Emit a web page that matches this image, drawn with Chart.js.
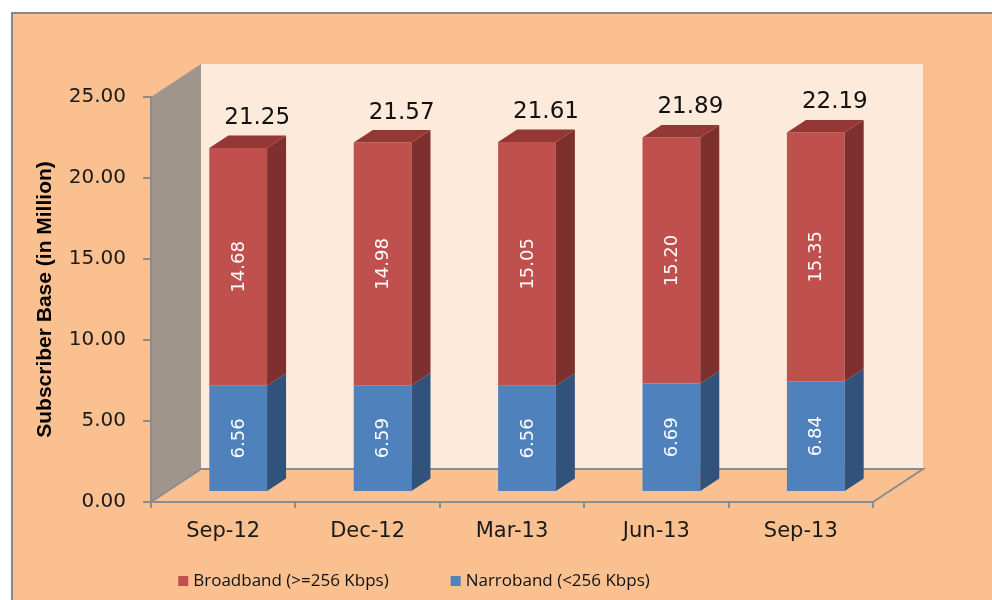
<!DOCTYPE html>
<html>
<head>
<meta charset="utf-8">
<script src="https://cdn.jsdelivr.net/npm/chart.js@4.4.0/dist/chart.umd.min.js"></script>
<style>
  html, body { margin: 0; padding: 0; background: #fff; overflow: hidden; }
  #wrap { position: relative; width: 992px; height: 600px; }
  #chart { display: block; }
</style>
</head>
<body>
<div id="wrap"><canvas id="chart" width="992" height="600"></canvas></div>
<script>
// Données
const categories = ['Sep-12', 'Dec-12', 'Mar-13', 'Jun-13', 'Sep-13'];
const narrowband = [6.56, 6.59, 6.56, 6.69, 6.84];
const broadband = [14.68, 14.98, 15.05, 15.20, 15.35];
const totals = [21.25, 21.57, 21.61, 21.89, 22.19];
const seriesNames = ['Narroband (<256 Kbps)', 'Broadband (>=256 Kbps)'];
const yMin = 0, yMax = 25, yStep = 5;

// couleurs
const colBlue = '#4F81BD', colBlueSide = '#31527A';
const colRed = '#C0504D', colRedSide = '#7E302E', colRedTop = '#953735';
const colBg = '#FAC090', colWall = '#FDEADA', colSideWall = '#A0958B', colLine = '#8C8C8C';

// effet 3D
const WALL = { x: 50, y: -33 };
const SHIFT = { x: 15, y: -10 };
const DEPTH = { x: 19, y: -12.5 };

const scene3d = {
  id: 'scene3d',
  beforeDraw(chart) {
    const ctx = chart.ctx, a = chart.chartArea;
    ctx.save();
    ctx.fillStyle = '#fff';
    ctx.fillRect(0, 0, chart.width, chart.height);
    ctx.fillStyle = '#888';
    ctx.fillRect(11, 12, chart.width, 2);
    ctx.fillRect(11, 12, 2, chart.height);
    ctx.fillStyle = colBg;
    ctx.fillRect(13, 14, chart.width, chart.height);

    // mur du fond
    ctx.fillStyle = colWall;
    ctx.fillRect(a.left + WALL.x, a.top + WALL.y, a.right - a.left, a.bottom - a.top);
    // mur gauche
    ctx.fillStyle = colSideWall;
    ctx.beginPath();
    ctx.moveTo(a.left, a.top);
    ctx.lineTo(a.left + WALL.x, a.top + WALL.y);
    ctx.lineTo(a.left + WALL.x, a.bottom + WALL.y);
    ctx.lineTo(a.left, a.bottom);
    ctx.closePath();
    ctx.fill();
    // sol
    ctx.fillStyle = colBg;
    ctx.beginPath();
    ctx.moveTo(a.left, a.bottom);
    ctx.lineTo(a.left + WALL.x, a.bottom + WALL.y);
    ctx.lineTo(a.right + WALL.x, a.bottom + WALL.y);
    ctx.lineTo(a.right, a.bottom);
    ctx.closePath();
    ctx.fill();
    ctx.strokeStyle = colLine;
    ctx.lineWidth = 2;
    ctx.beginPath();
    ctx.moveTo(a.left, a.bottom);
    ctx.lineTo(a.left + WALL.x, a.bottom + WALL.y);
    ctx.lineTo(a.right + WALL.x, a.bottom + WALL.y);
    ctx.lineTo(a.right, a.bottom);
    ctx.stroke();
    ctx.restore();
  },
  beforeDatasetsDraw(chart) {
    chart.ctx.save();
    chart.ctx.translate(SHIFT.x, SHIFT.y);
  },
  afterDatasetsDraw(chart) {
    const ctx = chart.ctx;
    ctx.restore();
    const sides = [colBlueSide, colRedSide];
    const last = chart.data.datasets.length - 1;
    chart.data.datasets.forEach((ds, di) => {
      chart.getDatasetMeta(di).data.forEach((bar) => {
        const p = bar.getProps(['x', 'y', 'base', 'width'], true);
        const l = p.x - p.width / 2 + SHIFT.x, r = p.x + p.width / 2 + SHIFT.x;
        const t = p.y + SHIFT.y, b = p.base + SHIFT.y;
        ctx.fillStyle = sides[di];
        ctx.beginPath();
        ctx.moveTo(r, t);
        ctx.lineTo(r + DEPTH.x, t + DEPTH.y);
        ctx.lineTo(r + DEPTH.x, b + DEPTH.y);
        ctx.lineTo(r, b);
        ctx.closePath();
        ctx.fill();
        if (di === last) {
          ctx.fillStyle = colRedTop;
          ctx.beginPath();
          ctx.moveTo(l, t);
          ctx.lineTo(l + DEPTH.x, t + DEPTH.y);
          ctx.lineTo(r + DEPTH.x, t + DEPTH.y);
          ctx.lineTo(r, t);
          ctx.closePath();
          ctx.fill();
        }
      });
    });

    // étiquettes dans les barres
    ctx.save();
    ctx.fillStyle = '#fff';
    ctx.font = '18px "DejaVu Sans"';
    ctx.textAlign = 'center';
    ctx.textBaseline = 'middle';
    chart.data.datasets.forEach((ds, di) => {
      chart.getDatasetMeta(di).data.forEach((bar, i) => {
        const p = bar.getProps(['x', 'y', 'base'], true);
        ctx.save();
        ctx.translate(p.x + SHIFT.x, (p.y + p.base) / 2 + SHIFT.y);
        ctx.rotate(-Math.PI / 2);
        ctx.fillText(ds.data[i].toFixed(2), 0, 1);
        ctx.restore();
      });
    });
    // totaux
    ctx.fillStyle = '#111';
    ctx.font = '23px "DejaVu Sans"';
    chart.getDatasetMeta(last).data.forEach((bar, i) => {
      const p = bar.getProps(['x', 'y'], true);
      ctx.fillText(totals[i].toFixed(2), p.x + SHIFT.x + 19, p.y + SHIFT.y - 30);
    });
    ctx.restore();
  },
  afterDraw(chart) {
    // légende
    const ctx = chart.ctx;
    const items = [
      { text: seriesNames[1], color: colRed },
      { text: seriesNames[0], color: colBlue }
    ];
    ctx.save();
    ctx.font = '17px "Open Sans"';
    ctx.textBaseline = 'middle';
    ctx.textAlign = 'left';
    const box = 10, gapText = 5, gapItem = 62, cy = 581, center = 414;
    const widths = items.map(it => box + gapText + ctx.measureText(it.text).width);
    let x = center - (widths[0] + widths[1] + gapItem) / 2;
    items.forEach((it, i) => {
      ctx.fillStyle = it.color;
      ctx.fillRect(x, cy - 5, box, box);
      ctx.fillStyle = '#111';
      ctx.fillText(it.text, x + box + gapText, cy);
      x += widths[i] + gapItem;
    });
    ctx.restore();
  }
};

new Chart(document.getElementById('chart'), {
  type: 'bar',
  data: {
    labels: categories,
    datasets: [
      { label: seriesNames[0], data: narrowband, backgroundColor: colBlue, borderWidth: 0 },
      { label: seriesNames[1], data: broadband, backgroundColor: colRed, borderWidth: 0 }
    ]
  },
  options: {
    responsive: false,
    animation: false,
    layout: { padding: { left: 0, top: 97, right: 119, bottom: 58 } },
    datasets: { bar: { categoryPercentage: 1, barPercentage: 0.4 } },
    plugins: { legend: { display: false }, tooltip: { enabled: false } },
    scales: {
      x: {
        stacked: true,
        afterFit: (s) => { s.height = 40; },
        grid: { offset: true, drawOnChartArea: false, drawTicks: true, tickLength: 6, color: colLine, lineWidth: 2 },
        border: { display: true, color: colLine, width: 2 },
        ticks: { color: '#1a1a1a', font: { family: 'DejaVu Sans', size: 21 }, padding: 11, maxRotation: 0 }
      },
      y: {
        stacked: true,
        min: yMin, max: yMax,
        afterFit: (s) => { s.width = 151; },
        grid: { drawOnChartArea: false, drawTicks: true, tickLength: 8, color: colLine, lineWidth: 2 },
        border: { display: true, color: colLine, width: 2 },
        ticks: {
          stepSize: yStep, padding: 17, color: '#1a1a1a',
          font: { family: 'DejaVu Sans', size: 20 },
          callback: (v) => v.toFixed(2)
        },
        title: {
          display: true, text: 'Subscriber Base (in Million)', color: '#000',
          font: { family: 'Liberation Sans', size: 21, weight: 'bold' },
          padding: { top: 33, bottom: 0 }
        }
      }
    }
  },
  plugins: [scene3d]
});
</script>
</body>
</html>
